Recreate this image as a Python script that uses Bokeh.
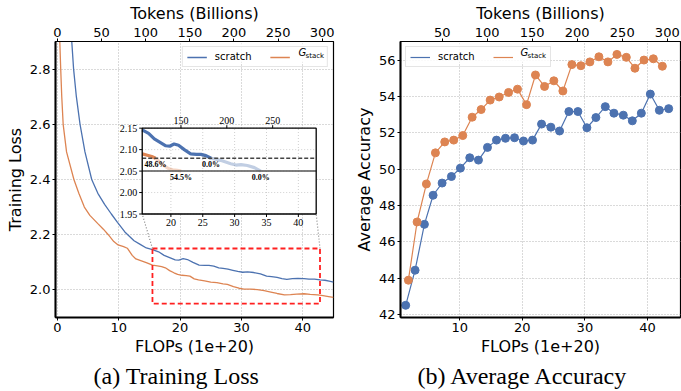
import math
from bokeh.plotting import figure
from bokeh.layouts import row
from bokeh.models import (Range1d, LinearAxis, FixedTicker, Legend, LegendItem,
                          Label, Title, PrintfTickFormatter, BoxAnnotation)
from bokeh.embed import file_html
from bokeh.resources import INLINE

# ---------------- data ----------------
# (a) training loss curves: FLOPs (1e+20) vs loss
scratch_flops = [2.35, 2.65, 3.10, 3.70, 4.50, 5.60, 6.60, 7.70, 8.80, 9.80,
                 11.0, 12.5, 13.5, 14.5, 15.5, 16.5, 17.4, 18.3, 19.2, 19.8,
                 20.5, 21.2, 22.1, 23.1, 24.0, 24.7, 25.5, 26.3, 27.0, 27.8,
                 28.6, 29.4, 30.2, 31.0, 32.0, 33.1, 34.1, 34.9, 35.8, 36.6,
                 37.4, 38.3, 39.2, 40.2, 41.0, 41.9, 42.8, 43.6, 44.3, 45.0]
scratch_loss = [2.900, 2.800, 2.700, 2.600, 2.500, 2.400, 2.350, 2.310, 2.275, 2.245,
                2.210, 2.178, 2.165, 2.152, 2.146, 2.138, 2.125, 2.117, 2.109, 2.108,
                2.113, 2.110, 2.100, 2.090, 2.089, 2.089, 2.086, 2.080, 2.078, 2.075,
                2.071, 2.067, 2.064, 2.065, 2.063, 2.058, 2.050, 2.048, 2.045, 2.041,
                2.038, 2.041, 2.042, 2.041, 2.039, 2.039, 2.036, 2.035, 2.032, 2.028]

gstack_flops = [0.40, 0.55, 0.72, 0.95, 1.50, 2.70, 3.50, 4.40, 5.30, 6.60,
                7.50, 8.30, 9.20, 9.90, 10.8, 11.4, 12.2, 12.8, 13.7, 14.6,
                15.5, 16.3, 17.0, 17.6, 18.3, 19.0, 19.6, 20.3, 21.0, 21.6,
                22.3, 23.0, 24.0, 25.0, 26.0, 27.0, 27.7, 28.7, 29.6, 30.4,
                31.5, 32.6, 33.7, 34.8, 35.8, 37.0, 38.0, 39.0, 40.2, 41.2,
                42.4, 43.3, 44.2, 45.0]
gstack_loss = [2.900, 2.800, 2.700, 2.600, 2.500, 2.400, 2.350, 2.300, 2.270, 2.240,
               2.220, 2.200, 2.175, 2.163, 2.157, 2.151, 2.125, 2.112, 2.105, 2.098,
               2.090, 2.087, 2.084, 2.080, 2.070, 2.062, 2.056, 2.053, 2.052, 2.050,
               2.040, 2.036, 2.033, 2.028, 2.026, 2.022, 2.020, 2.012, 2.006, 2.003,
               2.003, 2.001, 1.997, 1.992, 1.987, 1.982, 1.983, 1.985, 1.986, 1.984,
               1.982, 1.979, 1.976, 1.973]

# loss thresholds marked in the zoomed view and the savings written at them
loss_levels = [2.08, 2.05]
gstack_saving_labels = ["48.6%", "54.5%"]
scratch_saving_labels = ["0.0%", "0.0%"]

# (b) average accuracy at evaluated checkpoints
acc_scratch_flops = [1.36, 2.86, 4.35, 5.74, 7.18, 8.67, 10.1, 11.6, 12.99, 14.43,
                     15.87, 17.31, 18.75, 20.19, 21.63, 23.07, 24.56, 25.95, 27.44, 28.88,
                     30.32, 31.76, 33.26, 34.64, 36.14, 37.58, 39.02, 40.46, 41.9, 43.39]
acc_scratch = [42.52, 44.45, 46.97, 48.57, 49.24, 49.60, 50.06, 50.63, 50.50, 51.20,
               51.60, 51.70, 51.73, 51.55, 51.60, 52.48, 52.31, 52.10, 53.17, 53.17,
               52.28, 52.84, 53.44, 53.08, 52.97, 52.66, 53.08, 54.13, 53.24, 53.33]
acc_gstack_flops = [1.79, 3.18, 4.67, 6.11, 7.60, 9.04, 10.48, 11.98, 13.42, 14.86,
                    16.30, 17.80, 19.23, 20.67, 22.10, 23.55, 25.04, 26.48, 27.92, 29.36,
                    30.80, 32.24, 33.68, 35.12, 36.62, 38.00, 39.44, 40.94, 42.38]
acc_gstack = [43.90, 47.10, 49.19, 50.90, 51.50, 51.60, 51.85, 52.86, 53.28, 53.80,
              53.97, 54.22, 54.40, 53.55, 55.18, 54.55, 54.86, 54.30, 55.75, 55.69,
              55.90, 56.18, 55.90, 56.31, 56.15, 55.55, 56.00, 56.07, 55.66]

loss_xticks = [0, 10, 20, 30, 40]
loss_yticks = [2.0, 2.2, 2.4, 2.6, 2.8]
acc_xticks = [10, 20, 30, 40]
acc_yticks = [42, 44, 46, 48, 50, 52, 54, 56]
token_ticks_a = [0, 50, 100, 150, 200, 250, 300]
token_ticks_b = [50, 100, 150, 200, 250, 300]
inset_xticks = [20, 25, 30, 35, 40]
inset_yticks = [1.95, 2.00, 2.05, 2.10, 2.15]
inset_token_ticks = [150, 200, 250]

TOKENS_PER_FLOP = 6.95   # billions of tokens per 1e20 FLOPs

# ---------------- style ----------------
BLUE = "#4C72B0"
ORANGE = "#DD8452"
FONT = "DejaVu Sans"
SERIF = "Liberation Serif"
GRID = "#b5b5b5"
FRAME_H = 279          # plot-area height in px
LEGEND_W = 145         # legend box size in px
LEGEND_H = 19


def style_axis(ax, line_width):
    ax.axis_line_color = "black"
    ax.axis_line_width = line_width
    ax.major_tick_out = 3
    ax.major_tick_in = 0
    ax.major_tick_line_color = "black"
    ax.minor_tick_line_color = None
    ax.major_label_text_font = FONT
    ax.major_label_text_font_size = "13px"
    ax.major_label_text_color = "black"
    ax.major_label_standoff = 2
    ax.axis_label_text_font = FONT
    ax.axis_label_text_font_size = "16px"
    ax.axis_label_text_font_style = "normal"
    ax.axis_label_text_color = "black"
    ax.axis_label_standoff = 2


def base_figure(width, xr, yr, border_left, border_right):
    p = figure(width=width, height=391, x_range=xr, y_range=yr,
               output_backend="svg", toolbar_location=None,
               min_border_left=border_left, min_border_right=border_right,
               min_border_top=38, min_border_bottom=74)
    p.background_fill_color = "white"
    p.border_fill_color = "white"
    p.outline_line_color = "black"
    p.outline_line_width = 1.2
    p.outline_line_alpha = 1.0
    p.grid.grid_line_color = GRID
    p.grid.grid_line_dash = "1 2"
    p.grid.grid_line_width = 1
    for ax in p.axis:
        style_axis(ax, 2)
    p.xaxis.axis_label = "FLOPs (1e+20)"
    return p


def add_token_axis(p, ticks):
    p.extra_x_ranges = {"tokens": Range1d(p.x_range.start * TOKENS_PER_FLOP,
                                          p.x_range.end * TOKENS_PER_FLOP)}
    top = LinearAxis(x_range_name="tokens", axis_label="Tokens (Billions)",
                     ticker=FixedTicker(ticks=ticks))
    style_axis(top, 1.2)
    p.add_layout(top, "above")


def add_legend(p, r_scratch, r_gstack, location, box_left):
    # translucent white panel behind the legend entries
    top = FRAME_H - 5
    p.add_layout(BoxAnnotation(left=box_left, right=box_left + LEGEND_W,
                               top=top, bottom=top - LEGEND_H,
                               left_units="screen", right_units="screen",
                               top_units="screen", bottom_units="screen",
                               fill_color="white", fill_alpha=0.85,
                               line_color=None, level="glyph"))
    legend = Legend(items=[LegendItem(label="scratch", renderers=[r_scratch]),
                           LegendItem(label="\u00a0" * 8, renderers=[r_gstack])],
                    orientation="horizontal", location=location,
                    label_text_font=FONT, label_text_font_size="10px",
                    label_text_color="black",
                    glyph_width=20, glyph_height=10, label_height=10,
                    label_standoff=8, spacing=18, padding=4, margin=5,
                    border_line_color="#cccccc", border_line_width=1,
                    background_fill_alpha=0.0)
    p.add_layout(legend)
    g_x = box_left + 115
    p.add_layout(Label(x=g_x, y=top - 9, x_units="screen", y_units="screen",
                       text="G", text_font=FONT, text_font_size="10px",
                       text_color="black", text_font_style="italic",
                       text_baseline="middle", level="overlay"))
    p.add_layout(Label(x=g_x + 7, y=top - 12, x_units="screen", y_units="screen",
                       text="stack", text_font=FONT, text_font_size="7px",
                       text_color="black", text_baseline="middle",
                       level="overlay"))


def add_caption(p, text, shift):
    p.add_layout(Title(text=text, align="left", text_font=SERIF,
                       text_font_size="24px", text_font_style="normal",
                       text_color="black", standoff=4, offset=shift), "below")


# ================= (a) Training Loss =================
p1 = base_figure(340, Range1d(-0.3, 45.0), Range1d(1.9, 2.9), 55, 7)
p1.xaxis.ticker = FixedTicker(ticks=loss_xticks)
p1.yaxis.ticker = FixedTicker(ticks=loss_yticks)
p1.yaxis.formatter = PrintfTickFormatter(format="%.1f")
p1.yaxis.axis_label = "Training Loss"
add_token_axis(p1, token_ticks_a)

r_s = p1.line(scratch_flops, scratch_loss, line_color=BLUE, line_width=1.3)
r_g = p1.line(gstack_flops, gstack_loss, line_color=ORANGE, line_width=1.3)
add_legend(p1, r_s, r_g, "top_right", 278 - 5 - LEGEND_W)

# zoomed region (data units) and where its inset sits on the main axes
ZX = (15.5, 42.8)
ZY = (1.95, 2.15)
INSET_X = (13.83, 42.18)
INSET_Y = (2.275, 2.586)

ax_scale = (INSET_X[1] - INSET_X[0]) / (ZX[1] - ZX[0])
ay_scale = (INSET_Y[1] - INSET_Y[0]) / (ZY[1] - ZY[0])
ix_start = ZX[0] + (p1.x_range.start - INSET_X[0]) / ax_scale
ix_end = ZX[0] + (p1.x_range.end - INSET_X[0]) / ax_scale
iy_start = ZY[0] + (p1.y_range.start - INSET_Y[0]) / ay_scale
iy_end = ZY[0] + (p1.y_range.end - INSET_Y[0]) / ay_scale
p1.extra_x_ranges["ix"] = Range1d(ix_start, ix_end)
p1.extra_x_ranges["itok"] = Range1d(ix_start * TOKENS_PER_FLOP, ix_end * TOKENS_PER_FLOP)
p1.extra_y_ranges = {"iy": Range1d(iy_start, iy_end)}

# red box marking the zoomed region, with dotted connectors to the inset
p1.quad(left=[ZX[0]], right=[ZX[1]], bottom=[ZY[0]], top=[ZY[1]],
        fill_color=None, line_color="#ff2020", line_width=1.8, line_dash="5 3")
p1.segment(x0=[ZX[0], ZX[1]], y0=[ZY[1], ZY[1]],
           x1=[INSET_X[0], INSET_X[1]], y1=[INSET_Y[0], INSET_Y[0]],
           line_color="#888888", line_width=1.2, line_dash="1 2")

inset = dict(x_range_name="ix", y_range_name="iy")
p1.quad(left=[ZX[0]], right=[ZX[1]], bottom=[ZY[0]], top=[ZY[1]],
        fill_color="white", line_color=None, **inset)

# inset grid
p1.segment(x0=inset_xticks, x1=inset_xticks, y0=[ZY[0]] * len(inset_xticks),
           y1=[ZY[1]] * len(inset_xticks), line_color="#cfcfcf", line_width=1,
           line_dash="1 2", **inset)
p1.segment(x0=[ZX[0]] * len(inset_yticks), x1=[ZX[1]] * len(inset_yticks),
           y0=inset_yticks, y1=inset_yticks, line_color="#cfcfcf", line_width=1,
           line_dash="1 2", **inset)


def first_below(xs, ys, level):
    for i, (x, y) in enumerate(zip(xs, ys)):
        if y <= level + 1e-9 and x >= ZX[0]:
            return i
    return len(xs) - 1


def draw_progress(xs, ys, color):
    # darker stretch down to the first threshold, lighter one down to the second
    i0 = next(i for i, x in enumerate(xs) if x >= ZX[0])
    i1 = first_below(xs, ys, loss_levels[0])
    i2 = first_below(xs, ys, loss_levels[1])
    p1.line(xs[i0:i1 + 1], ys[i0:i1 + 1], line_color=color, line_width=3.2, **inset)
    p1.line(xs[i1:i2 + 1], ys[i1:i2 + 1], line_color=color, line_width=3.2,
            line_alpha=0.35, **inset)
    return [xs[i1], xs[i2]]


cross_s = draw_progress(scratch_flops, scratch_loss, BLUE)
cross_g = draw_progress(gstack_flops, gstack_loss, ORANGE)

p1.segment(x0=[ZX[0]], x1=[ZX[1]], y0=[loss_levels[0]], y1=[loss_levels[0]],
           line_color="#444444", line_width=1.5, line_dash="4 2", **inset)
p1.segment(x0=[ZX[0]], x1=[ZX[1]], y0=[loss_levels[1]], y1=[loss_levels[1]],
           line_color="#555555", line_width=1.5, **inset)

# savings text under each threshold, centred where each run reaches it
p1.text(x=cross_g + cross_s, y=loss_levels + loss_levels,
        text=gstack_saving_labels + scratch_saving_labels,
        text_font=FONT, text_font_size="8px", text_font_style="bold",
        text_color="black", text_align="center", text_baseline="top",
        y_offset=2, **inset)

# inset frame, ticks and tick labels
p1.quad(left=[ZX[0]], right=[ZX[1]], bottom=[ZY[0]], top=[ZY[1]],
        fill_color=None, line_color="black", line_width=1.3, **inset)
p1.text(x=[ZX[0]] * len(inset_yticks), y=inset_yticks,
        text=["%.2f" % v for v in inset_yticks], text_font=FONT,
        text_font_size="10px", text_align="right", text_baseline="middle",
        x_offset=-5, **inset)
p1.text(x=inset_xticks, y=[ZY[0]] * len(inset_xticks),
        text=[str(v) for v in inset_xticks], text_font=FONT,
        text_font_size="10px", text_align="center", text_baseline="top",
        y_offset=5, **inset)
p1.text(x=inset_token_ticks, y=[ZY[1]] * len(inset_token_ticks),
        text=[str(v) for v in inset_token_ticks], text_font=FONT,
        text_font_size="10px", text_align="center", text_baseline="bottom",
        y_offset=-4, x_range_name="itok", y_range_name="iy")
p1.ray(x=inset_xticks, y=[ZY[0]] * len(inset_xticks), length=3,
       length_units="screen", angle=-math.pi / 2, line_color="black", **inset)
p1.ray(x=[ZX[0]] * len(inset_yticks), y=inset_yticks, length=3,
       length_units="screen", angle=math.pi, line_color="black", **inset)
p1.ray(x=inset_token_ticks, y=[ZY[1]] * len(inset_token_ticks), length=3,
       length_units="screen", angle=math.pi / 2, line_color="black",
       x_range_name="itok", y_range_name="iy")

add_caption(p1, "(a) Training Loss", 38)

# ================= (b) Average Accuracy =================
p2 = base_figure(341, Range1d(0.53, 45.28), Range1d(41.85, 57.02), 60, 1)
p2.xaxis.ticker = FixedTicker(ticks=acc_xticks)
p2.yaxis.ticker = FixedTicker(ticks=acc_yticks)
p2.yaxis.axis_label = "Average Accuracy"
add_token_axis(p2, token_ticks_b)

q_s = p2.line(acc_scratch_flops, acc_scratch, line_color=BLUE, line_width=1.2)
p2.scatter(acc_scratch_flops, acc_scratch, size=8, fill_color=BLUE, line_color=BLUE)
q_g = p2.line(acc_gstack_flops, acc_gstack, line_color=ORANGE, line_width=1.2)
p2.scatter(acc_gstack_flops, acc_gstack, size=8, fill_color=ORANGE, line_color=ORANGE)
add_legend(p2, q_s, q_g, "top_left", 5)

add_caption(p2, "(b) Average Accuracy", 17)

layout = row(p1, p2)
open("out.html", "w").write(file_html(layout, INLINE))
